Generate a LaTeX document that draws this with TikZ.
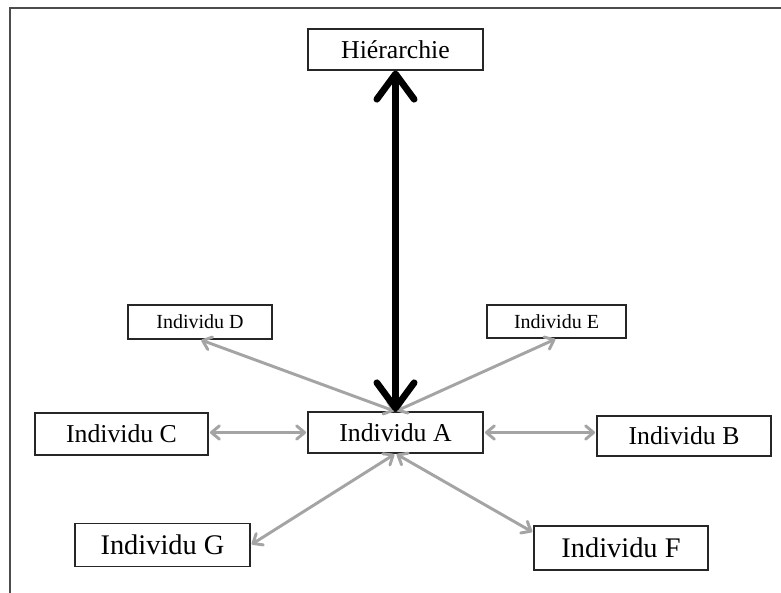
\documentclass[tikz,border=0pt]{standalone}
\usepackage{fontspec}
\setmainfont{Liberation Serif}
\usetikzlibrary{arrows.meta}
\definecolor{lgray}{HTML}{A4A4A4}
\begin{document}
\begin{tikzpicture}[x=0.75pt,y=-0.75pt,
  box/.style={draw=black!85,line width=0.9pt,fill=white,inner sep=0pt,anchor=center},
  big/.style={box,font=\fontsize{19.3}{22}\selectfont},
  small/.style={box,font=\fontsize{15}{18}\selectfont},
  large/.style={box,font=\fontsize{21.3}{24}\selectfont},
  glink/.style={draw=lgray,line width=2.2pt,{Straight Barb[round,length=6pt,width=10pt]}-{Straight Barb[round,length=6pt,width=10pt]},shorten <=1pt,shorten >=1pt},
  blink/.style={draw=black,line width=5pt,{Straight Barb[round,length=19pt,width=28pt]}-{Straight Barb[round,length=19pt,width=28pt]}}
]
\useasboundingbox (0,0) rectangle (781,592);
\fill[white] (0,0) rectangle (781,592);
\draw[black!70,line width=1.5pt] (10,600) -- (10,8.5) -- (790,8.5);

\node[big,minimum width=175*0.75pt,minimum height=41*0.75pt] (H) at (395.5,49.5) {Hiérarchie};
\node[small,minimum width=144*0.75pt,minimum height=34*0.75pt] (D) at (200,322) {Individu D};
\node[small,minimum width=139*0.75pt,minimum height=33*0.75pt] (E) at (556.5,321.5) {Individu E};
\node[big,minimum width=173*0.75pt,minimum height=42*0.75pt] (C) at (121.5,434) {Individu C};
\node[big,minimum width=175*0.75pt,minimum height=41*0.75pt] (A) at (395.5,432.5) {Individu A};
\node[big,minimum width=174*0.75pt,minimum height=40*0.75pt] (B) at (684,436) {Individu B};
\node[large,minimum width=175*0.75pt,minimum height=43*0.75pt] (G) at (162.5,545) {Individu G};
\node[large,minimum width=174*0.75pt,minimum height=44*0.75pt] (F) at (621,548) {Individu F};

\draw[glink] (A.north) -- (D.south);
\draw[glink] (A.north) -- (E.south);
\draw[glink] (A.west) -- (A.west -| C.east);
\draw[glink] (A.east) -- (A.east -| B.west);
\draw[glink] (A.south) -- (G.east);
\draw[glink] (A.south) -- (F.170);
\draw[blink] (H.south) -- (A.north);
\end{tikzpicture}
\end{document}
